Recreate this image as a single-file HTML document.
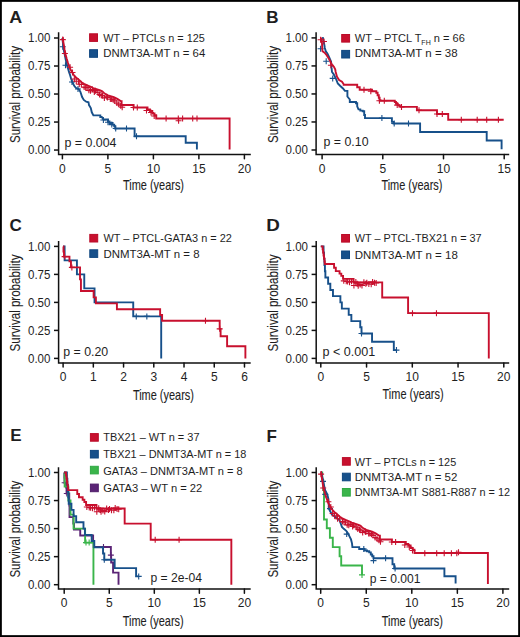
<!DOCTYPE html>
<html><head><meta charset="utf-8"><style>
html,body{margin:0;padding:0;background:#fff;}
svg{display:block;}
</style></head><body>
<svg width="520" height="637" viewBox="0 0 520 637" font-family='"Liberation Sans", sans-serif' fill="#1e1e1e">
<rect x="0.9" y="0.9" width="518.2" height="635.2" fill="#fff" stroke="#000" stroke-width="1.9"/>
<path d="M58.6 32.30V154.6H250.8" fill="none" stroke="#111" stroke-width="1.5" stroke-linejoin="miter" stroke-linecap="butt"/>
<path d="M54.00 38.00H58.6" stroke="#111" stroke-width="1.5"/>
<text x="50.40" y="42.30" font-size="12" text-anchor="end" textLength="22.4" lengthAdjust="spacingAndGlyphs">1.00</text>
<path d="M54.00 66.01H58.6" stroke="#111" stroke-width="1.5"/>
<text x="50.40" y="70.31" font-size="12" text-anchor="end" textLength="22.4" lengthAdjust="spacingAndGlyphs">0.75</text>
<path d="M54.00 94.03H58.6" stroke="#111" stroke-width="1.5"/>
<text x="50.40" y="98.33" font-size="12" text-anchor="end" textLength="22.4" lengthAdjust="spacingAndGlyphs">0.50</text>
<path d="M54.00 122.04H58.6" stroke="#111" stroke-width="1.5"/>
<text x="50.40" y="126.34" font-size="12" text-anchor="end" textLength="22.4" lengthAdjust="spacingAndGlyphs">0.25</text>
<path d="M54.00 150.05H58.6" stroke="#111" stroke-width="1.5"/>
<text x="50.40" y="154.35" font-size="12" text-anchor="end" textLength="22.4" lengthAdjust="spacingAndGlyphs">0.00</text>
<path d="M62.40 154.6V158.80" stroke="#111" stroke-width="1.5" stroke-linecap="round"/>
<text x="62.40" y="172.70" font-size="12" text-anchor="middle">0</text>
<path d="M107.90 154.6V158.80" stroke="#111" stroke-width="1.5" stroke-linecap="round"/>
<text x="107.90" y="172.70" font-size="12" text-anchor="middle">5</text>
<path d="M153.40 154.6V158.80" stroke="#111" stroke-width="1.5" stroke-linecap="round"/>
<text x="153.40" y="172.70" font-size="12" text-anchor="middle">10</text>
<path d="M198.90 154.6V158.80" stroke="#111" stroke-width="1.5" stroke-linecap="round"/>
<text x="198.90" y="172.70" font-size="12" text-anchor="middle">15</text>
<path d="M244.40 154.6V158.80" stroke="#111" stroke-width="1.5" stroke-linecap="round"/>
<text x="244.40" y="172.70" font-size="12" text-anchor="middle">20</text>
<text x="0" y="0" font-size="15" text-anchor="middle" textLength="97" lengthAdjust="spacingAndGlyphs" stroke="#1e1e1e" stroke-width="0.1" transform="translate(20.0,94.53) rotate(-90)">Survival probability</text>
<text x="123.0" y="189.7" font-size="14.6" textLength="61" lengthAdjust="spacingAndGlyphs" stroke="#1e1e1e" stroke-width="0.12">Time (years)</text>
<path d="M316.1 32.30V154.5H509.2" fill="none" stroke="#111" stroke-width="1.5" stroke-linejoin="miter" stroke-linecap="butt"/>
<path d="M311.50 37.90H316.1" stroke="#111" stroke-width="1.5"/>
<text x="307.90" y="42.20" font-size="12" text-anchor="end" textLength="22.4" lengthAdjust="spacingAndGlyphs">1.00</text>
<path d="M311.50 65.93H316.1" stroke="#111" stroke-width="1.5"/>
<text x="307.90" y="70.23" font-size="12" text-anchor="end" textLength="22.4" lengthAdjust="spacingAndGlyphs">0.75</text>
<path d="M311.50 93.95H316.1" stroke="#111" stroke-width="1.5"/>
<text x="307.90" y="98.25" font-size="12" text-anchor="end" textLength="22.4" lengthAdjust="spacingAndGlyphs">0.50</text>
<path d="M311.50 121.97H316.1" stroke="#111" stroke-width="1.5"/>
<text x="307.90" y="126.27" font-size="12" text-anchor="end" textLength="22.4" lengthAdjust="spacingAndGlyphs">0.25</text>
<path d="M311.50 150.00H316.1" stroke="#111" stroke-width="1.5"/>
<text x="307.90" y="154.30" font-size="12" text-anchor="end" textLength="22.4" lengthAdjust="spacingAndGlyphs">0.00</text>
<path d="M322.10 154.5V158.70" stroke="#111" stroke-width="1.5" stroke-linecap="round"/>
<text x="322.10" y="172.60" font-size="12" text-anchor="middle">0</text>
<path d="M382.80 154.5V158.70" stroke="#111" stroke-width="1.5" stroke-linecap="round"/>
<text x="382.80" y="172.60" font-size="12" text-anchor="middle">5</text>
<path d="M443.50 154.5V158.70" stroke="#111" stroke-width="1.5" stroke-linecap="round"/>
<text x="443.50" y="172.60" font-size="12" text-anchor="middle">10</text>
<path d="M504.20 154.5V158.70" stroke="#111" stroke-width="1.5" stroke-linecap="round"/>
<text x="504.20" y="172.60" font-size="12" text-anchor="middle">15</text>
<text x="0" y="0" font-size="15" text-anchor="middle" textLength="97" lengthAdjust="spacingAndGlyphs" stroke="#1e1e1e" stroke-width="0.1" transform="translate(278.0,94.45) rotate(-90)">Survival probability</text>
<text x="381.4" y="189.6" font-size="14.6" textLength="61" lengthAdjust="spacingAndGlyphs" stroke="#1e1e1e" stroke-width="0.12">Time (years)</text>
<path d="M58.6 240.90V362.9H250.7" fill="none" stroke="#111" stroke-width="1.5" stroke-linejoin="miter" stroke-linecap="butt"/>
<path d="M54.00 246.40H58.6" stroke="#111" stroke-width="1.5"/>
<text x="50.40" y="250.70" font-size="12" text-anchor="end" textLength="22.4" lengthAdjust="spacingAndGlyphs">1.00</text>
<path d="M54.00 274.40H58.6" stroke="#111" stroke-width="1.5"/>
<text x="50.40" y="278.70" font-size="12" text-anchor="end" textLength="22.4" lengthAdjust="spacingAndGlyphs">0.75</text>
<path d="M54.00 302.40H58.6" stroke="#111" stroke-width="1.5"/>
<text x="50.40" y="306.70" font-size="12" text-anchor="end" textLength="22.4" lengthAdjust="spacingAndGlyphs">0.50</text>
<path d="M54.00 330.40H58.6" stroke="#111" stroke-width="1.5"/>
<text x="50.40" y="334.70" font-size="12" text-anchor="end" textLength="22.4" lengthAdjust="spacingAndGlyphs">0.25</text>
<path d="M54.00 358.40H58.6" stroke="#111" stroke-width="1.5"/>
<text x="50.40" y="362.70" font-size="12" text-anchor="end" textLength="22.4" lengthAdjust="spacingAndGlyphs">0.00</text>
<path d="M63.10 362.9V367.10" stroke="#111" stroke-width="1.5" stroke-linecap="round"/>
<text x="63.10" y="381.00" font-size="12" text-anchor="middle">0</text>
<path d="M93.33 362.9V367.10" stroke="#111" stroke-width="1.5" stroke-linecap="round"/>
<text x="93.33" y="381.00" font-size="12" text-anchor="middle">1</text>
<path d="M123.56 362.9V367.10" stroke="#111" stroke-width="1.5" stroke-linecap="round"/>
<text x="123.56" y="381.00" font-size="12" text-anchor="middle">2</text>
<path d="M153.79 362.9V367.10" stroke="#111" stroke-width="1.5" stroke-linecap="round"/>
<text x="153.79" y="381.00" font-size="12" text-anchor="middle">3</text>
<path d="M184.02 362.9V367.10" stroke="#111" stroke-width="1.5" stroke-linecap="round"/>
<text x="184.02" y="381.00" font-size="12" text-anchor="middle">4</text>
<path d="M214.25 362.9V367.10" stroke="#111" stroke-width="1.5" stroke-linecap="round"/>
<text x="214.25" y="381.00" font-size="12" text-anchor="middle">5</text>
<path d="M244.48 362.9V367.10" stroke="#111" stroke-width="1.5" stroke-linecap="round"/>
<text x="244.48" y="381.00" font-size="12" text-anchor="middle">6</text>
<text x="0" y="0" font-size="15" text-anchor="middle" textLength="97" lengthAdjust="spacingAndGlyphs" stroke="#1e1e1e" stroke-width="0.1" transform="translate(20.0,302.90) rotate(-90)">Survival probability</text>
<text x="132.9" y="399.7" font-size="14.6" textLength="61" lengthAdjust="spacingAndGlyphs" stroke="#1e1e1e" stroke-width="0.12">Time (years)</text>
<path d="M316.2 240.90V362.9H509.2" fill="none" stroke="#111" stroke-width="1.5" stroke-linejoin="miter" stroke-linecap="butt"/>
<path d="M311.60 246.40H316.2" stroke="#111" stroke-width="1.5"/>
<text x="308.00" y="250.70" font-size="12" text-anchor="end" textLength="22.4" lengthAdjust="spacingAndGlyphs">1.00</text>
<path d="M311.60 274.40H316.2" stroke="#111" stroke-width="1.5"/>
<text x="308.00" y="278.70" font-size="12" text-anchor="end" textLength="22.4" lengthAdjust="spacingAndGlyphs">0.75</text>
<path d="M311.60 302.40H316.2" stroke="#111" stroke-width="1.5"/>
<text x="308.00" y="306.70" font-size="12" text-anchor="end" textLength="22.4" lengthAdjust="spacingAndGlyphs">0.50</text>
<path d="M311.60 330.40H316.2" stroke="#111" stroke-width="1.5"/>
<text x="308.00" y="334.70" font-size="12" text-anchor="end" textLength="22.4" lengthAdjust="spacingAndGlyphs">0.25</text>
<path d="M311.60 358.40H316.2" stroke="#111" stroke-width="1.5"/>
<text x="308.00" y="362.70" font-size="12" text-anchor="end" textLength="22.4" lengthAdjust="spacingAndGlyphs">0.00</text>
<path d="M320.80 362.9V367.10" stroke="#111" stroke-width="1.5" stroke-linecap="round"/>
<text x="320.80" y="381.00" font-size="12" text-anchor="middle">0</text>
<path d="M366.55 362.9V367.10" stroke="#111" stroke-width="1.5" stroke-linecap="round"/>
<text x="366.55" y="381.00" font-size="12" text-anchor="middle">5</text>
<path d="M412.30 362.9V367.10" stroke="#111" stroke-width="1.5" stroke-linecap="round"/>
<text x="412.30" y="381.00" font-size="12" text-anchor="middle">10</text>
<path d="M458.05 362.9V367.10" stroke="#111" stroke-width="1.5" stroke-linecap="round"/>
<text x="458.05" y="381.00" font-size="12" text-anchor="middle">15</text>
<path d="M503.80 362.9V367.10" stroke="#111" stroke-width="1.5" stroke-linecap="round"/>
<text x="503.80" y="381.00" font-size="12" text-anchor="middle">20</text>
<text x="0" y="0" font-size="15" text-anchor="middle" textLength="97" lengthAdjust="spacingAndGlyphs" stroke="#1e1e1e" stroke-width="0.1" transform="translate(278.0,302.90) rotate(-90)">Survival probability</text>
<text x="382.6" y="399.4" font-size="14.6" textLength="61" lengthAdjust="spacingAndGlyphs" stroke="#1e1e1e" stroke-width="0.12">Time (years)</text>
<path d="M58.5 467.20V589.0H250.7" fill="none" stroke="#111" stroke-width="1.5" stroke-linejoin="miter" stroke-linecap="butt"/>
<path d="M53.90 472.50H58.5" stroke="#111" stroke-width="1.5"/>
<text x="50.30" y="476.80" font-size="12" text-anchor="end" textLength="22.4" lengthAdjust="spacingAndGlyphs">1.00</text>
<path d="M53.90 500.55H58.5" stroke="#111" stroke-width="1.5"/>
<text x="50.30" y="504.85" font-size="12" text-anchor="end" textLength="22.4" lengthAdjust="spacingAndGlyphs">0.75</text>
<path d="M53.90 528.60H58.5" stroke="#111" stroke-width="1.5"/>
<text x="50.30" y="532.90" font-size="12" text-anchor="end" textLength="22.4" lengthAdjust="spacingAndGlyphs">0.50</text>
<path d="M53.90 556.65H58.5" stroke="#111" stroke-width="1.5"/>
<text x="50.30" y="560.95" font-size="12" text-anchor="end" textLength="22.4" lengthAdjust="spacingAndGlyphs">0.25</text>
<path d="M53.90 584.70H58.5" stroke="#111" stroke-width="1.5"/>
<text x="50.30" y="589.00" font-size="12" text-anchor="end" textLength="22.4" lengthAdjust="spacingAndGlyphs">0.00</text>
<path d="M64.20 589.0V593.20" stroke="#111" stroke-width="1.5" stroke-linecap="round"/>
<text x="64.20" y="607.10" font-size="12" text-anchor="middle">0</text>
<path d="M109.25 589.0V593.20" stroke="#111" stroke-width="1.5" stroke-linecap="round"/>
<text x="109.25" y="607.10" font-size="12" text-anchor="middle">5</text>
<path d="M154.30 589.0V593.20" stroke="#111" stroke-width="1.5" stroke-linecap="round"/>
<text x="154.30" y="607.10" font-size="12" text-anchor="middle">10</text>
<path d="M199.35 589.0V593.20" stroke="#111" stroke-width="1.5" stroke-linecap="round"/>
<text x="199.35" y="607.10" font-size="12" text-anchor="middle">15</text>
<path d="M244.40 589.0V593.20" stroke="#111" stroke-width="1.5" stroke-linecap="round"/>
<text x="244.40" y="607.10" font-size="12" text-anchor="middle">20</text>
<text x="0" y="0" font-size="15" text-anchor="middle" textLength="97" lengthAdjust="spacingAndGlyphs" stroke="#1e1e1e" stroke-width="0.1" transform="translate(20.0,529.10) rotate(-90)">Survival probability</text>
<text x="122.7" y="625.7" font-size="14.6" textLength="61" lengthAdjust="spacingAndGlyphs" stroke="#1e1e1e" stroke-width="0.12">Time (years)</text>
<path d="M316.2 467.20V589.0H509.2" fill="none" stroke="#111" stroke-width="1.5" stroke-linejoin="miter" stroke-linecap="butt"/>
<path d="M311.60 472.50H316.2" stroke="#111" stroke-width="1.5"/>
<text x="308.00" y="476.80" font-size="12" text-anchor="end" textLength="22.4" lengthAdjust="spacingAndGlyphs">1.00</text>
<path d="M311.60 500.55H316.2" stroke="#111" stroke-width="1.5"/>
<text x="308.00" y="504.85" font-size="12" text-anchor="end" textLength="22.4" lengthAdjust="spacingAndGlyphs">0.75</text>
<path d="M311.60 528.60H316.2" stroke="#111" stroke-width="1.5"/>
<text x="308.00" y="532.90" font-size="12" text-anchor="end" textLength="22.4" lengthAdjust="spacingAndGlyphs">0.50</text>
<path d="M311.60 556.65H316.2" stroke="#111" stroke-width="1.5"/>
<text x="308.00" y="560.95" font-size="12" text-anchor="end" textLength="22.4" lengthAdjust="spacingAndGlyphs">0.25</text>
<path d="M311.60 584.70H316.2" stroke="#111" stroke-width="1.5"/>
<text x="308.00" y="589.00" font-size="12" text-anchor="end" textLength="22.4" lengthAdjust="spacingAndGlyphs">0.00</text>
<path d="M320.70 589.0V593.20" stroke="#111" stroke-width="1.5" stroke-linecap="round"/>
<text x="320.70" y="607.10" font-size="12" text-anchor="middle">0</text>
<path d="M366.25 589.0V593.20" stroke="#111" stroke-width="1.5" stroke-linecap="round"/>
<text x="366.25" y="607.10" font-size="12" text-anchor="middle">5</text>
<path d="M411.80 589.0V593.20" stroke="#111" stroke-width="1.5" stroke-linecap="round"/>
<text x="411.80" y="607.10" font-size="12" text-anchor="middle">10</text>
<path d="M457.35 589.0V593.20" stroke="#111" stroke-width="1.5" stroke-linecap="round"/>
<text x="457.35" y="607.10" font-size="12" text-anchor="middle">15</text>
<path d="M502.90 589.0V593.20" stroke="#111" stroke-width="1.5" stroke-linecap="round"/>
<text x="502.90" y="607.10" font-size="12" text-anchor="middle">20</text>
<text x="0" y="0" font-size="15" text-anchor="middle" textLength="97" lengthAdjust="spacingAndGlyphs" stroke="#1e1e1e" stroke-width="0.1" transform="translate(278.0,529.10) rotate(-90)">Survival probability</text>
<text x="381.8" y="625.8" font-size="14.6" textLength="61" lengthAdjust="spacingAndGlyphs" stroke="#1e1e1e" stroke-width="0.12">Time (years)</text>
<text x="9.3" y="22.6" font-size="17" font-weight="bold" textLength="12.9" lengthAdjust="spacingAndGlyphs">A</text>
<text x="266.2" y="23.0" font-size="17" font-weight="bold">B</text>
<text x="9.4" y="230.8" font-size="17" font-weight="bold">C</text>
<text x="266.3" y="231.0" font-size="17" font-weight="bold" textLength="13.6" lengthAdjust="spacingAndGlyphs">D</text>
<text x="10.2" y="440.8" font-size="17" font-weight="bold">E</text>
<text x="266.6" y="441.6" font-size="17" font-weight="bold">F</text>
<rect x="89.60" y="33.80" width="7.90" height="7.60" fill="#C8102E" stroke="#BA0C28" stroke-width="1"/>
<text x="103.3" y="41.6" font-size="10.2" textLength="101.5" lengthAdjust="spacingAndGlyphs">WT – PTCLs n = 125</text>
<rect x="89.60" y="49.70" width="7.90" height="7.60" fill="#17508A" stroke="#0F4680" stroke-width="1"/>
<text x="103.3" y="57.0" font-size="10.2" textLength="102" lengthAdjust="spacingAndGlyphs">DNMT3A-MT n = 64</text>
<rect x="341.70" y="34.50" width="7.90" height="7.60" fill="#C8102E" stroke="#BA0C28" stroke-width="1"/>
<text x="354.8" y="41.9" font-size="10.2" textLength="110" lengthAdjust="spacingAndGlyphs">WT – PTCL T<tspan font-size="6.5" dy="2.6">FH</tspan><tspan dy="-2.6"> n = 66</tspan></text>
<rect x="341.70" y="50.40" width="7.90" height="7.60" fill="#17508A" stroke="#0F4680" stroke-width="1"/>
<text x="354.8" y="57.4" font-size="10.2" textLength="102.8" lengthAdjust="spacingAndGlyphs">DNMT3A-MT n = 38</text>
<rect x="89.80" y="234.40" width="7.90" height="7.60" fill="#C8102E" stroke="#BA0C28" stroke-width="1"/>
<text x="103.5" y="242.3" font-size="10.2" textLength="128.3" lengthAdjust="spacingAndGlyphs">WT – PTCL-GATA3 n = 22</text>
<rect x="89.80" y="249.80" width="7.90" height="7.60" fill="#17508A" stroke="#0F4680" stroke-width="1"/>
<text x="103.5" y="257.7" font-size="10.2" textLength="96" lengthAdjust="spacingAndGlyphs">DNMT3A-MT n = 8</text>
<rect x="341.60" y="234.50" width="7.90" height="7.60" fill="#C8102E" stroke="#BA0C28" stroke-width="1"/>
<text x="354.8" y="242.2" font-size="10.2" textLength="126.8" lengthAdjust="spacingAndGlyphs">WT – PTCL-TBX21 n = 37</text>
<rect x="341.60" y="251.00" width="7.90" height="7.60" fill="#17508A" stroke="#0F4680" stroke-width="1"/>
<text x="354.8" y="258.6" font-size="10.2" textLength="103" lengthAdjust="spacingAndGlyphs">DNMT3A-MT n = 18</text>
<rect x="90.40" y="433.60" width="7.90" height="7.60" fill="#C8102E" stroke="#BA0C28" stroke-width="1"/>
<text x="103.2" y="441.0" font-size="10.2" textLength="96.3" lengthAdjust="spacingAndGlyphs">TBX21 – WT n = 37</text>
<rect x="90.40" y="450.40" width="7.90" height="7.60" fill="#17508A" stroke="#0F4680" stroke-width="1"/>
<text x="103.2" y="457.9" font-size="10.2" textLength="143.2" lengthAdjust="spacingAndGlyphs">TBX21 – DNMT3A-MT n = 18</text>
<rect x="90.40" y="466.30" width="7.90" height="7.60" fill="#3AB54A" stroke="#30A844" stroke-width="1"/>
<text x="103.2" y="474.7" font-size="10.2" textLength="139.4" lengthAdjust="spacingAndGlyphs">GATA3 – DNMT3A-MT n = 8</text>
<rect x="90.40" y="484.10" width="7.90" height="7.60" fill="#5B2476" stroke="#4F1D6A" stroke-width="1"/>
<text x="103.2" y="491.5" font-size="10.2" textLength="99.1" lengthAdjust="spacingAndGlyphs">GATA3 – WT n = 22</text>
<rect x="342.40" y="457.60" width="7.90" height="7.60" fill="#C8102E" stroke="#BA0C28" stroke-width="1"/>
<text x="354.7" y="465.7" font-size="10.2" textLength="101.5" lengthAdjust="spacingAndGlyphs">WT – PTCLs n = 125</text>
<rect x="342.40" y="473.20" width="7.90" height="7.60" fill="#17508A" stroke="#0F4680" stroke-width="1"/>
<text x="354.7" y="480.6" font-size="10.2" textLength="102.6" lengthAdjust="spacingAndGlyphs">DNMT3A-MT n = 52</text>
<rect x="342.40" y="488.50" width="7.90" height="7.60" fill="#3AB54A" stroke="#30A844" stroke-width="1"/>
<text x="354.7" y="495.8" font-size="10.2" textLength="155.3" lengthAdjust="spacingAndGlyphs">DNMT3A-MT S881-R887 n = 12</text>
<text x="64.5" y="146.6" font-size="12.2" textLength="52" lengthAdjust="spacingAndGlyphs">p = 0.004</text>
<text x="323.5" y="146.4" font-size="12.2" textLength="45" lengthAdjust="spacingAndGlyphs">p = 0.10</text>
<text x="63.2" y="355.6" font-size="12.2" textLength="45" lengthAdjust="spacingAndGlyphs">p = 0.20</text>
<text x="322.5" y="355.6" font-size="12.2" textLength="52.8" lengthAdjust="spacingAndGlyphs">p &lt; 0.001</text>
<text x="150.5" y="581.6" font-size="12.2" textLength="51.6" lengthAdjust="spacingAndGlyphs">p = 2e-04</text>
<text x="369.8" y="583.1" font-size="12.2" textLength="50.7" lengthAdjust="spacingAndGlyphs">p = 0.001</text>
<path d="M62.4 38.0L62.8 42L63.3 46L63.8 50L65.2 57L66.7 64.4L68 68.5L69 71.9L70.2 75.5L71.2 79L72.6 82.5L74.2 85.8L75.8 87.8L78.7 89L80.4 91.8L82.1 97L83.8 99.9L86.2 101.7L88.5 102.2L89 105.1L90.8 108L91.8 112.3L93.4 115.4H100.3V117H101.8L103.4 119.5H108V121.5H109.5V123H112.6V124.6H114.2V126.2H115.2V128.5H134.6V136.2H185.7V142.8H196.9V149.5" stroke="#17508A" stroke-width="1.9" fill="none"/>
<path d="M59.80 46.70h6.00M62.80 43.70v6.00M62.50 65.30h6.00M65.50 62.30v6.00M69.00 82.00h6.00M72.00 79.00v6.00M75.00 89.00h6.00M78.00 86.00v6.00M100.40 120.00h6.00M103.40 117.00v6.00M105.00 122.30h6.00M108.00 119.30v6.00M108.80 124.60h6.00M111.80 121.60v6.00M112.70 128.50h6.00M115.70 125.50v6.00M123.50 128.50h6.00M126.50 125.50v6.00M133.50 136.20h6.00M136.50 133.20v6.00" stroke="#17508A" stroke-width="1.1" fill="none"/>
<path d="M62.4 38.0H62.8L63.3 42L64 46L64.6 50L65.6 54.5L66.7 58.7L68 63L69.5 67.3L71.5 71.3L73.6 74.8L76 77.5L78.8 79.6L81.5 82.2L84 83.9L87.3 85.4L91.9 87.3L93.1 88.1L96.5 89.2L100.3 90.5L102.3 91.3L104.6 93.6L108 95.4L113.8 97.1L117.3 98.9L120.7 101.1H121.6V105H133.6V107.5H147.5V109.5H150V111H152.3V113.5H154.5V115.2H156.2V118.5H229.6V149.6" stroke="#C8102E" stroke-width="1.9" fill="none"/>
<path d="M59.80 39.60h6.00M62.80 36.60v6.00M61.90 53.50h6.00M64.90 50.50v6.00M67.10 67.20h6.00M70.10 64.20v6.00M69.50 72.50h6.00M72.50 69.50v6.00M71.33 78.96h6.00M74.33 75.96v6.00M73.27 81.21h6.00M76.27 78.21v6.00M75.38 81.18h6.00M78.38 78.18v6.00M76.27 84.26h6.00M79.27 81.26v6.00M78.36 84.47h6.00M81.36 81.47v6.00M81.14 87.08h6.00M84.14 84.08v6.00M82.67 87.79h6.00M85.67 84.79v6.00M84.14 87.48h6.00M87.14 84.48v6.00M85.89 90.36h6.00M88.89 87.36v6.00M87.48 90.64h6.00M90.48 87.64v6.00M89.44 89.55h6.00M92.44 86.55v6.00M91.31 91.97h6.00M94.31 88.97v6.00M92.42 90.64h6.00M95.42 87.64v6.00M94.96 92.82h6.00M97.96 89.82v6.00M96.51 94.56h6.00M99.51 91.56v6.00M98.25 95.34h6.00M101.25 92.34v6.00M99.55 95.66h6.00M102.55 92.66v6.00M101.37 97.88h6.00M104.37 94.88v6.00M103.73 96.72h6.00M106.73 93.72v6.00M104.44 97.45h6.00M107.44 94.45v6.00M107.35 99.10h6.00M110.35 96.10v6.00M108.63 99.07h6.00M111.63 96.07v6.00M110.21 99.78h6.00M113.21 96.78v6.00M111.74 101.04h6.00M114.74 98.04v6.00M113.82 103.06h6.00M116.82 100.06v6.00M115.70 104.30h6.00M118.70 101.30v6.00M117.70 105.77h6.00M120.70 102.77v6.00M119.19 107.19h6.00M122.19 104.19v6.00M130.50 107.50h6.00M133.50 104.50v6.00M134.30 107.50h6.00M137.30 104.50v6.00M143.50 110.50h6.00M146.50 107.50v6.00M148.00 112.50h6.00M151.00 109.50v6.00M151.20 116.00h6.00M154.20 113.00v6.00M163.10 118.50h6.00M166.10 115.50v6.00M175.30 118.50h6.00M178.30 115.50v6.00M175.60 120.80h6.00M178.60 117.80v6.00M179.60 118.50h6.00M182.60 115.50v6.00M189.70 118.50h6.00M192.70 115.50v6.00M194.00 118.50h6.00M197.00 115.50v6.00" stroke="#C8102E" stroke-width="1.1" fill="none"/>
<path d="M320.7 472.5H322.2V480H323.2V490H324V519.5H326.8V528.3H329.9V537.7H332.8V547.1H339.6V556.2H341.2V565.5H362V574.9" stroke="#3AB54A" stroke-width="1.9" fill="none"/>
<path d="M359.00 574.90h6.00M362.00 571.90v6.00" stroke="#3AB54A" stroke-width="1.1" fill="none"/>
<path d="M320.7 472.5H321.3L322.3 477L323.4 482L324.3 486.5L325.1 490.2L326.3 492.5L327.3 494.6L328.4 499L328.7 503L328.9 508.7L331.8 514.4L335.6 517.3L339.5 520.2L340.9 524L341.9 526.9L343.8 528.8L346.2 530.8L347.6 532.7L349.1 535.6L351 539.4L352 543.3L352.4 547.1H359.2V549H364.5V550.5H367V551.2H369.2V552.4H370.8V554.5H372.2V556.2H373.5V558.2H392.5V564.2H394.2V568.5H444.4V576.3H455.6V583.6" stroke="#17508A" stroke-width="1.9" fill="none"/>
<path d="M320.00 481.40h6.00M323.00 478.40v6.00M322.30 494.40h6.00M325.30 491.40v6.00M327.00 508.60h6.00M330.00 505.60v6.00M343.70 534.10h6.00M346.70 531.10v6.00M360.80 549.00h6.00M363.80 546.00v6.00M370.50 560.60h6.00M373.50 557.60v6.00M382.60 558.20h6.00M385.60 555.20v6.00M392.10 568.50h6.00M395.10 565.50v6.00" stroke="#17508A" stroke-width="1.1" fill="none"/>
<g transform="translate(258.30,434.50)">
<path d="M62.4 38.0H62.8L63.3 42L64 46L64.6 50L65.6 54.5L66.7 58.7L68 63L69.5 67.3L71.5 71.3L73.6 74.8L76 77.5L78.8 79.6L81.5 82.2L84 83.9L87.3 85.4L91.9 87.3L93.1 88.1L96.5 89.2L100.3 90.5L102.3 91.3L104.6 93.6L108 95.4L113.8 97.1L117.3 98.9L120.7 101.1H121.6V105H133.6V107.5H147.5V109.5H150V111H152.3V113.5H154.5V115.2H156.2V118.5H229.6V149.6" stroke="#C8102E" stroke-width="1.9" fill="none"/>
<path d="M59.80 39.60h6.00M62.80 36.60v6.00M61.90 53.50h6.00M64.90 50.50v6.00M67.10 67.20h6.00M70.10 64.20v6.00M69.50 72.50h6.00M72.50 69.50v6.00M71.33 78.96h6.00M74.33 75.96v6.00M73.27 81.21h6.00M76.27 78.21v6.00M75.38 81.18h6.00M78.38 78.18v6.00M76.27 84.26h6.00M79.27 81.26v6.00M78.36 84.47h6.00M81.36 81.47v6.00M81.14 87.08h6.00M84.14 84.08v6.00M82.67 87.79h6.00M85.67 84.79v6.00M84.14 87.48h6.00M87.14 84.48v6.00M85.89 90.36h6.00M88.89 87.36v6.00M87.48 90.64h6.00M90.48 87.64v6.00M89.44 89.55h6.00M92.44 86.55v6.00M91.31 91.97h6.00M94.31 88.97v6.00M92.42 90.64h6.00M95.42 87.64v6.00M94.96 92.82h6.00M97.96 89.82v6.00M96.51 94.56h6.00M99.51 91.56v6.00M98.25 95.34h6.00M101.25 92.34v6.00M99.55 95.66h6.00M102.55 92.66v6.00M101.37 97.88h6.00M104.37 94.88v6.00M103.73 96.72h6.00M106.73 93.72v6.00M104.44 97.45h6.00M107.44 94.45v6.00M107.35 99.10h6.00M110.35 96.10v6.00M108.63 99.07h6.00M111.63 96.07v6.00M110.21 99.78h6.00M113.21 96.78v6.00M111.74 101.04h6.00M114.74 98.04v6.00M113.82 103.06h6.00M116.82 100.06v6.00M115.70 104.30h6.00M118.70 101.30v6.00M117.70 105.77h6.00M120.70 102.77v6.00M119.19 107.19h6.00M122.19 104.19v6.00M130.50 107.50h6.00M133.50 104.50v6.00M134.30 107.50h6.00M137.30 104.50v6.00M143.50 110.50h6.00M146.50 107.50v6.00M148.00 112.50h6.00M151.00 109.50v6.00M151.20 116.00h6.00M154.20 113.00v6.00" stroke="#C8102E" stroke-width="1.1" fill="none"/>
</g>
<path d="M421.80 553.30h6.00M424.80 550.30v6.00M433.70 553.30h6.00M436.70 550.30v6.00M441.20 553.30h6.00M444.20 550.30v6.00M448.40 553.30h6.00M451.40 550.30v6.00M453.80 553.30h6.00M456.80 550.30v6.00M455.50 552.20h6.00M458.50 549.20v6.00" stroke="#C8102E" stroke-width="1.1" fill="none"/>
<path d="M322.1 37.9H322.9L324.3 44.6L324.8 48L326 51.7L327.4 53.5L329 57L331.1 61.8L331.5 67.4L332 72L333.6 74.1L336.1 79.2L337.8 83.5L340.3 86L343 88.5L344.9 90.9H347.4V96.5L349.8 99.5V102H352.3H356V103.2H357.2V106.3L358.5 109.4H360.3V110.6H362.7V111.2H364.2V115H365V118.1H391.9V121.9H393.5V123.5H420.1V132H486.7V140.5H501.6V149.3" stroke="#17508A" stroke-width="1.9" fill="none"/>
<path d="M317.60 48.80h6.00M320.60 45.80v6.00M323.20 61.20h6.00M326.20 58.20v6.00M329.70 78.40h6.00M332.70 75.40v6.00M378.90 118.10h6.00M381.90 115.10v6.00M391.20 123.50h6.00M394.20 120.50v6.00M405.50 123.50h6.00M408.50 120.50v6.00" stroke="#17508A" stroke-width="1.1" fill="none"/>
<path d="M320.6 37.9L321.5 38.8L322 43.2L322.2 47.8L322.5 51.2L324.6 52.6L326.5 54.9L328.3 57.7L329.9 60.5L331.1 63.2L332.5 65.5L333.8 66.5L335.2 69.2L335.7 72L337 76.7L339.1 80.1L342 81.8L343.7 84.3V84.8H357.2V87.2H359.7V89.7H372V91.3H376.3V92.8H377.6V95.2H378.8V97.7H379.6V100.2H380.5V100.8H394.8V102H396V103.8H397.8V105.1H399.5V106.3H401V106.9H416.9V110.2H437V114H448.2V119.8H503.7" stroke="#C8102E" stroke-width="1.9" fill="none"/>
<path d="M317.60 39.80h6.00M320.60 36.80v6.00M321.00 41.50h6.00M324.00 38.50v6.00M327.90 65.30h6.00M330.90 62.30v6.00M361.00 89.70h6.00M364.00 86.70v6.00M367.80 91.30h6.00M370.80 88.30v6.00M376.40 100.80h6.00M379.40 97.80v6.00M381.30 100.80h6.00M384.30 97.80v6.00M394.20 105.10h6.00M397.20 102.10v6.00M398.50 106.90h6.00M401.50 103.90v6.00M416.00 110.20h6.00M419.00 107.20v6.00M434.00 114.00h6.00M437.00 111.00v6.00M439.30 114.00h6.00M442.30 111.00v6.00M458.30 119.80h6.00M461.30 116.80v6.00M474.20 119.80h6.00M477.20 116.80v6.00M483.70 119.80h6.00M486.70 116.80v6.00M495.40 119.80h6.00M498.40 116.80v6.00" stroke="#C8102E" stroke-width="1.1" fill="none"/>
<path d="M63.10 246.40H64.61V260.40H76.92V274.40H84.26V288.40H94.54V302.40H133.23V316.40H161.20V358.40" stroke="#17508A" stroke-width="1.9" fill="none"/>
<path d="M133.26 316.40h6.00M136.26 313.40v6.00M143.84 316.40h6.00M146.84 313.40v6.00" stroke="#17508A" stroke-width="1.1" fill="none"/>
<path d="M63.10 246.40H63.49V251.44H64.01V256.59H69.45V261.41H70.96V267.40H80.03V279.33H80.94V290.98H93.63V297.36H95.90V303.41H116.91V309.23H160.14V315.00H162.10V320.77H219.69V328.83H220.60V336.22H227.10V346.30H245.39V358.40" stroke="#C8102E" stroke-width="1.9" fill="none"/>
<path d="M61.61 256.59h6.00M64.61 253.59v6.00M68.87 267.40h6.00M71.87 264.40v6.00M202.48 320.77h6.00M205.48 317.77v6.00M216.69 328.83h6.00M219.69 325.83v6.00" stroke="#C8102E" stroke-width="1.1" fill="none"/>
<path d="M320.80 246.40H323.55V252.67H324.00V258.83H324.46V265.10H324.92V271.26H325.38V277.54H328.12V283.70H330.32V289.97H332.97V296.13H340.38V302.40H341.85V308.67H348.71V314.83H351.36V321.10H360.24V327.26H361.52V333.54H372.04V341.82H393.82V350.11H396.47" stroke="#17508A" stroke-width="1.9" fill="none"/>
<path d="M358.52 333.54h6.00M361.52 330.54v6.00M393.47 350.11h6.00M396.47 347.11v6.00" stroke="#17508A" stroke-width="1.1" fill="none"/>
<path d="M320.80 246.40H322.63V249.42H323.09V252.45H323.55V255.47H324.00V258.50H324.46V261.52H324.83V263.98H334.07V267.79H335.81V271.15H339.56V273.62H341.30V275.86H343.03V278.88H353.56V282.35H382.20V297.47H408.09V313.15H488.79V358.40" stroke="#C8102E" stroke-width="1.9" fill="none"/>
<path d="M340.77 280.87h6.00M343.77 277.87v6.00M343.24 281.35h6.00M346.24 278.35v6.00M344.61 281.56h6.00M347.61 278.56v6.00M346.53 282.15h6.00M349.53 279.15v6.00M348.54 281.34h6.00M351.54 278.34v6.00M350.92 285.54h6.00M353.92 282.54v6.00M352.84 281.97h6.00M355.84 278.97v6.00M354.22 283.71h6.00M357.22 280.71v6.00M355.22 285.63h6.00M358.22 282.63v6.00M357.14 284.45h6.00M360.14 281.45v6.00M358.98 285.46h6.00M361.98 282.46v6.00M360.90 282.30h6.00M363.90 279.30v6.00M362.82 283.73h6.00M365.82 280.73v6.00M363.82 282.84h6.00M366.82 279.84v6.00M365.84 284.03h6.00M368.84 281.03v6.00M368.22 284.15h6.00M371.22 281.15v6.00M369.59 281.90h6.00M372.59 278.90v6.00M371.51 282.72h6.00M374.51 279.72v6.00M373.16 282.97h6.00M376.16 279.97v6.00M409.48 313.15h6.00M412.48 310.15v6.00M433.46 313.15h6.00M436.46 310.15v6.00" stroke="#C8102E" stroke-width="1.1" fill="none"/>
<path d="M64.20 472.50H64.32V477.55H64.47V482.71H66.09V487.53H66.54V493.54H69.25V505.49H69.52V517.16H73.30V523.55H73.98V529.61H80.24V535.44H93.12V541.22H93.71V547.00H110.87V555.08H111.14V562.48H113.08V572.58H118.53V584.70" stroke="#5B2476" stroke-width="1.9" fill="none"/>
<path d="M61.65 482.71h6.00M64.65 479.71v6.00M63.81 493.54h6.00M66.81 490.54v6.00M100.48 547.00h6.00M103.48 544.00v6.00M107.87 555.08h6.00M110.87 552.08v6.00" stroke="#5B2476" stroke-width="1.1" fill="none"/>
<path d="M64.20 472.50H64.65V486.52H68.32V500.55H70.51V514.58H73.57V528.60H85.10V542.62H93.44V584.70" stroke="#3AB54A" stroke-width="1.9" fill="none"/>
<path d="M83.00 542.62h6.00M86.00 539.62v6.00M86.16 542.62h6.00M89.16 539.62v6.00" stroke="#3AB54A" stroke-width="1.1" fill="none"/>
<path d="M64.20 472.50H66.90V478.78H67.35V484.95H67.80V491.24H68.25V497.41H68.70V503.69H71.41V509.86H73.57V516.15H76.18V522.32H83.48V528.60H84.92V534.88H91.68V541.05H94.29V547.34H103.03V553.51H104.29V559.79H114.66V568.09H136.10V576.40H138.71" stroke="#17508A" stroke-width="1.9" fill="none"/>
<path d="M101.29 559.79h6.00M104.29 556.79v6.00M135.71 576.40h6.00M138.71 573.40v6.00" stroke="#17508A" stroke-width="1.1" fill="none"/>
<path d="M64.20 472.50H66.00V475.53H66.45V478.56H66.90V481.59H67.35V484.62H67.80V487.65H68.16V490.12H77.26V493.93H78.98V497.30H82.67V499.76H84.38V502.01H86.09V505.04H96.46V508.52H124.66V523.66H150.70V539.82H231.34V584.70" stroke="#C8102E" stroke-width="1.9" fill="none"/>
<path d="M83.82 507.03h6.00M86.82 504.03v6.00M86.25 507.51h6.00M89.25 504.51v6.00M87.60 507.72h6.00M90.60 504.72v6.00M89.49 508.31h6.00M92.49 505.31v6.00M91.47 507.50h6.00M94.47 504.50v6.00M93.82 511.71h6.00M96.82 508.71v6.00M95.71 508.13h6.00M98.71 505.13v6.00M97.06 509.88h6.00M100.06 506.88v6.00M98.05 511.79h6.00M101.05 508.79v6.00M99.94 510.61h6.00M102.94 507.61v6.00M101.75 511.62h6.00M104.75 508.62v6.00M103.64 508.47h6.00M106.64 505.47v6.00M105.53 509.89h6.00M108.53 506.89v6.00M106.52 509.00h6.00M109.52 506.00v6.00M108.50 510.19h6.00M111.50 507.19v6.00M110.85 510.31h6.00M113.85 507.31v6.00M112.20 508.07h6.00M115.20 505.07v6.00M114.09 508.88h6.00M117.09 505.88v6.00M115.71 509.13h6.00M118.71 506.13v6.00M152.20 539.82h6.00M155.20 536.82v6.00M176.08 539.82h6.00M179.08 536.82v6.00" stroke="#C8102E" stroke-width="1.1" fill="none"/>
</svg></body></html>
